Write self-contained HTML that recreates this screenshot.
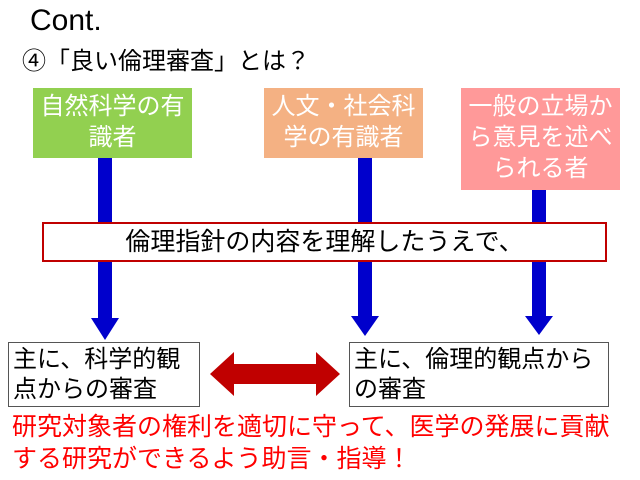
<!DOCTYPE html>
<html><head><meta charset="utf-8"><style>
body{margin:0;width:640px;height:480px;background:#fff;position:relative;overflow:hidden;font-family:"Liberation Sans","Noto Sans CJK JP",sans-serif;}
.a{position:absolute;}
.box{position:absolute;color:#fff;font-size:24px;line-height:31px;text-align:center;}
.wb{position:absolute;background:#fff;border:1px solid #555;font-size:24px;line-height:30px;color:#000;padding:2px 4px;box-sizing:border-box;white-space:nowrap;}
</style></head><body>
<div class="a" style="left:30px;top:4px;font-size:30px;">Cont.</div>
<div class="a" style="left:22px;top:41px;font-size:24px;">④「良い倫理審査」とは？</div>
<div class="box" style="left:33px;top:88px;width:159px;height:70px;background:#92D050;padding-top:3px;box-sizing:border-box;">自然科学の有<br>識者</div>
<div class="box" style="left:264px;top:88px;width:159px;height:70px;background:#F4B183;padding-top:3px;box-sizing:border-box;">人文・社会科<br>学の有識者</div>
<div class="box" style="left:461px;top:88px;width:159px;height:102px;background:#FF9999;padding-top:3px;box-sizing:border-box;">一般の立場か<br>ら意見を述べ<br>られる者</div>
<svg class="a" style="left:0;top:0" width="640" height="480">
<g fill="#0000CC">
<rect x="98" y="158" width="14" height="162"/><polygon points="91,318 119,318 105,340"/>
<rect x="358" y="158" width="14" height="160"/><polygon points="351,316 379,316 365,336"/>
<rect x="532" y="190" width="14" height="128"/><polygon points="525,316 553,316 539,335"/>
</g>
<polygon fill="#C00000" points="210,374 234,352 234,364 316,364 316,352 340,374 316,396 316,384 234,384 234,396"/>
</svg>
<div class="a" style="left:42px;top:222px;width:565px;height:40px;border:2px solid #C00000;background:#fff;box-sizing:border-box;font-size:25px;line-height:36px;text-align:center;">倫理指針の内容を理解したうえで、</div>
<div class="wb" style="left:8px;top:342px;width:192px;height:65px;">主に、科学的観<br>点からの審査</div>
<div class="wb" style="left:349px;top:342px;width:260px;height:65px;">主に、倫理的観点から<br>の審査</div>
<div class="a" style="left:12px;top:411px;font-size:25px;line-height:32px;color:#FF0000;white-space:nowrap;">研究対象者の権利を適切に守って、医学の発展に貢献<br>する研究ができるよう助言・指導！</div>
</body></html>
